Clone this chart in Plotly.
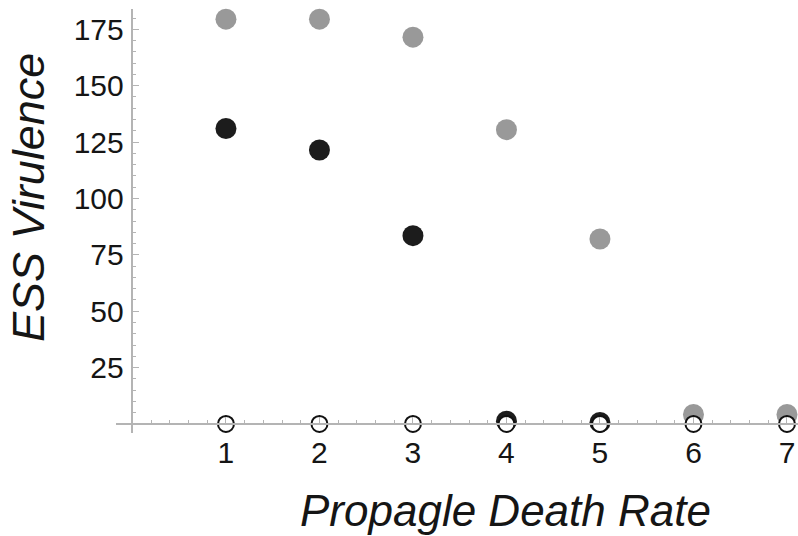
import plotly.graph_objects as go

death_rate = [1, 2, 3, 4, 5, 6, 7]
gray_vals = [179.5, 179.5, 171.5, 130.5, 82, 4.2, 4.2]
black_vals = [131, 121.5, 83.5, 1.2, 0.7, None, None]
white_vals = [0, 0, 0, 0, 0, 0, 0]
x_ticks = [1, 2, 3, 4, 5, 6, 7]
y_ticks = [25, 50, 75, 100, 125, 150, 175]

x_range = [-0.176, 7.118]
y_range = [-4, 184]

FONT = "Liberation Sans, Arial, Helvetica, sans-serif"
AXIS_COL = "#b4b4b4"
TXT = "#151515"

fig = go.Figure()
fig.add_trace(go.Scatter(x=death_rate, y=gray_vals, mode="markers",
                         marker=dict(size=21, color="#999999", line=dict(width=0)),
                         cliponaxis=False, showlegend=False))
fig.add_trace(go.Scatter(x=death_rate, y=black_vals, mode="markers",
                         marker=dict(size=21, color="#1c1c1c", line=dict(width=0)),
                         cliponaxis=False, showlegend=False))
fig.add_trace(go.Scatter(x=death_rate, y=white_vals, mode="markers",
                         marker=dict(size=16, color="white", line=dict(width=2, color="#111111")),
                         cliponaxis=False, showlegend=False))

xpos = (0 - y_range[0]) / (y_range[1] - y_range[0])
ypos = (0 - x_range[0]) / (x_range[1] - x_range[0])

fig.update_layout(
    width=798, height=536,
    margin=dict(l=116, r=0, t=9, b=103, autoexpand=False),
    paper_bgcolor="white", plot_bgcolor="white",
    font=dict(family=FONT, color=TXT),
    xaxis=dict(range=x_range, anchor="free", position=xpos, automargin=False,
               showgrid=False, zeroline=False, showline=True,
               linecolor=AXIS_COL, linewidth=1.5,
               tickmode="array", tickvals=x_ticks, ticktext=[str(v) for v in x_ticks],
               ticks="inside", ticklen=6, tickcolor=AXIS_COL, tickwidth=1,
               ticklabelstandoff=2,
               tickfont=dict(size=30, family=FONT, color=TXT),
               minor=dict(tick0=0, dtick=0.2, ticks="inside", ticklen=3,
                          tickcolor=AXIS_COL, tickwidth=1, showgrid=False)),
    yaxis=dict(range=y_range, anchor="free", position=ypos, automargin=False,
               showgrid=False, zeroline=False, showline=True,
               linecolor=AXIS_COL, linewidth=1.5,
               tickmode="array", tickvals=y_ticks, ticktext=[str(v) for v in y_ticks],
               ticks="inside", ticklen=6, tickcolor=AXIS_COL, tickwidth=1,
               ticklabelstandoff=2,
               tickfont=dict(size=30, family=FONT, color=TXT),
               minor=dict(tick0=0, dtick=5, ticks="inside", ticklen=3,
                          tickcolor=AXIS_COL, tickwidth=1, showgrid=False)),
    annotations=[
        dict(text="<i>Propagle Death Rate</i>", xref="paper", yref="paper",
             x=(505 - 116) / 682, y=(433 - 511) / 424, xanchor="center", yanchor="middle",
             showarrow=False, font=dict(size=44, family=FONT, color=TXT)),
        dict(text="<i>ESS Virulence</i>", xref="paper", yref="paper",
             x=(28 - 116) / 682, y=(433 - 198) / 424, xanchor="center", yanchor="middle",
             textangle=-90, showarrow=False, font=dict(size=45, family=FONT, color=TXT)),
    ],
)

fig.write_html("out.html", config={"displayModeBar": False},
               post_script="document.body.style.margin='0';document.body.style.overflow='hidden';")
